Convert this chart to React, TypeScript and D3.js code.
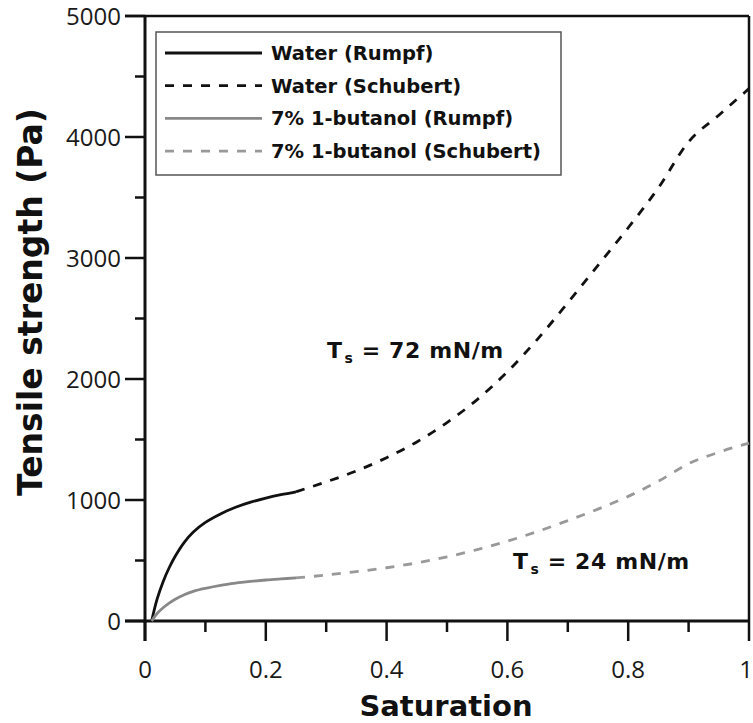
import React from "react";
import * as d3 from "d3";

const xTicks = [0, 0.2, 0.4, 0.6, 0.8, 1];
const xMinor = [0.1, 0.3, 0.5, 0.7, 0.9];
const yTicks = [0, 1000, 2000, 3000, 4000, 5000];
const yMinor = [500, 1500, 2500, 3500, 4500];

const waterRumpfS = [0.011, 0.02, 0.03, 0.04, 0.05, 0.065, 0.08, 0.1, 0.125, 0.15, 0.175, 0.2, 0.225, 0.25];
const waterRumpfT = [0, 180, 325, 440, 535, 650, 735, 815, 885, 940, 982, 1016, 1044, 1068];

const waterSchubertS = [0.25, 0.3, 0.35, 0.4, 0.45, 0.5, 0.55, 0.6, 0.65, 0.7, 0.75, 0.8, 0.85, 0.9, 0.95, 1.0];
const waterSchubertT = [1068, 1150, 1240, 1350, 1480, 1640, 1830, 2060, 2330, 2630, 2940, 3250, 3580, 3960, 4180, 4400];

const butRumpfS = [0.011, 0.02, 0.03, 0.04, 0.05, 0.065, 0.08, 0.1, 0.125, 0.15, 0.175, 0.2, 0.225, 0.25];
const butRumpfT = [0, 62, 110, 148, 180, 217, 245, 270, 295, 313, 327, 339, 348, 356];

const butSchubertS = [0.25, 0.3, 0.35, 0.4, 0.45, 0.5, 0.55, 0.6, 0.65, 0.7, 0.75, 0.8, 0.85, 0.9, 0.95, 1.0];
const butSchubertT = [356, 380, 408, 440, 480, 530, 590, 660, 740, 830, 925, 1030, 1155, 1300, 1395, 1470];

const legendLabels = ["Water (Rumpf)", "Water (Schubert)", "7% 1-butanol (Rumpf)", "7% 1-butanol (Schubert)"];
const seriesColors = ["#111", "#111", "#888", "#999"];
const seriesDash = [null, "9,9", null, "9,9"];

export default function App() {
  const x = d3.scaleLinear().domain([0, 1]).range([145, 749]);
  const y = d3.scaleLinear().domain([0, 5000]).range([621, 16]);
  const smooth = d3
    .line<[number, number]>()
    .x((d) => x(d[0]))
    .y((d) => y(d[1]))
    .curve(d3.curveCatmullRom.alpha(0.5));
  const mono = d3
    .line<[number, number]>()
    .x((d) => x(d[0]))
    .y((d) => y(d[1]))
    .curve(d3.curveMonotoneX);

  const series = [
    d3.zip(waterRumpfS, waterRumpfT),
    d3.zip(waterSchubertS, waterSchubertT),
    d3.zip(butRumpfS, butRumpfT),
    d3.zip(butSchubertS, butSchubertT),
  ] as [number, number][][];
  const gens = [smooth, mono, smooth, mono];

  const bold = "'DejaVu Sans', Verdana, sans-serif";
  const tickFont = "'Open Sans', sans-serif";

  return (
    <svg
      width={753}
      height={723}
      style={{ position: "absolute", left: 0, top: 0, background: "#fff" }}
    >
      <rect x={0} y={0} width={753} height={723} fill="#fff" />
      {/* frame top and right */}
      <line x1={125} x2={749} y1={y(5000)} y2={y(5000)} stroke="#111" strokeWidth={2.5} />
      <line x1={749} x2={749} y1={y(5000)} y2={y(0)} stroke="#111" strokeWidth={2.5} />
      {/* axes */}
      <line x1={125} x2={749} y1={y(0)} y2={y(0)} stroke="#111" strokeWidth={3} />
      <line x1={145} x2={145} y1={y(5000)} y2={641} stroke="#111" strokeWidth={3} />
      {/* y ticks */}
      {yTicks.map((t) => (
        <g key={"yt" + t}>
          <line x1={125} x2={145} y1={y(t)} y2={y(t)} stroke="#111" strokeWidth={2.5} />
          <text
            x={121}
            y={y(t)}
            dy="0.36em"
            textAnchor="end"
            fontFamily={tickFont}
            fontSize={24}
            fill="#1a1a1a"
          >
            {t}
          </text>
        </g>
      ))}
      {yMinor.map((t) => (
        <line key={"ym" + t} x1={135} x2={145} y1={y(t)} y2={y(t)} stroke="#111" strokeWidth={2.5} />
      ))}
      {/* x ticks */}
      {xTicks.map((t) => (
        <g key={"xt" + t}>
          <line x1={x(t)} x2={x(t)} y1={y(0)} y2={641} stroke="#111" strokeWidth={2.5} />
          <text
            x={t === 1 ? 753 : x(t)}
            y={678}
            textAnchor={t === 1 ? "end" : "middle"}
            fontFamily={tickFont}
            fontSize={24}
            fill="#1a1a1a"
          >
            {t}
          </text>
        </g>
      ))}
      {xMinor.map((t) => (
        <line key={"xm" + t} x1={x(t)} x2={x(t)} y1={y(0)} y2={632} stroke="#111" strokeWidth={2.5} />
      ))}
      {/* axis titles */}
      <text
        x={446}
        y={716}
        textAnchor="middle"
        fontFamily={bold}
        fontWeight="bold"
        fontSize={29}
        fill="#111"
      >
        Saturation
      </text>
      <text
        transform={`translate(42,302) rotate(-90)`}
        textAnchor="middle"
        fontFamily={bold}
        fontWeight="bold"
        fontSize={33}
        fill="#111"
      >
        Tensile strength (Pa)
      </text>
      {/* curves */}
      {series.map((d, i) => (
        <path
          key={"s" + i}
          d={gens[i](d) || ""}
          fill="none"
          stroke={seriesColors[i]}
          strokeWidth={2.8}
          strokeDasharray={seriesDash[i] || undefined}
        />
      ))}
      {/* legend */}
      <rect x={156} y={32} width={405} height={143} fill="#fff" stroke="#555" strokeWidth={1.5} />
      {legendLabels.map((lab, i) => {
        const ly = 53 + i * 32.7;
        return (
          <g key={"lg" + i}>
            <line
              x1={165}
              x2={262}
              y1={ly}
              y2={ly}
              stroke={seriesColors[i]}
              strokeWidth={2.8}
              strokeDasharray={seriesDash[i] || undefined}
            />
            <text
              x={271}
              y={ly}
              dy="0.36em"
              fontFamily={bold}
              fontWeight="bold"
              fontSize={19.5}
              fill="#111"
            >
              {lab}
            </text>
          </g>
        );
      })}
      {/* annotations */}
      <text x={327} y={358} fontFamily={bold} fontWeight="bold" fontSize={22} letterSpacing={0.6} fill="#111">
        T<tspan fontSize={14} dy={5} dx={2}>s</tspan>
        <tspan dy={-5}> = 72 mN/m</tspan>
      </text>
      <text x={513} y={569} fontFamily={bold} fontWeight="bold" fontSize={22} letterSpacing={0.6} fill="#111">
        T<tspan fontSize={14} dy={5} dx={2}>s</tspan>
        <tspan dy={-5}> = 24 mN/m</tspan>
      </text>
    </svg>
  );
}
